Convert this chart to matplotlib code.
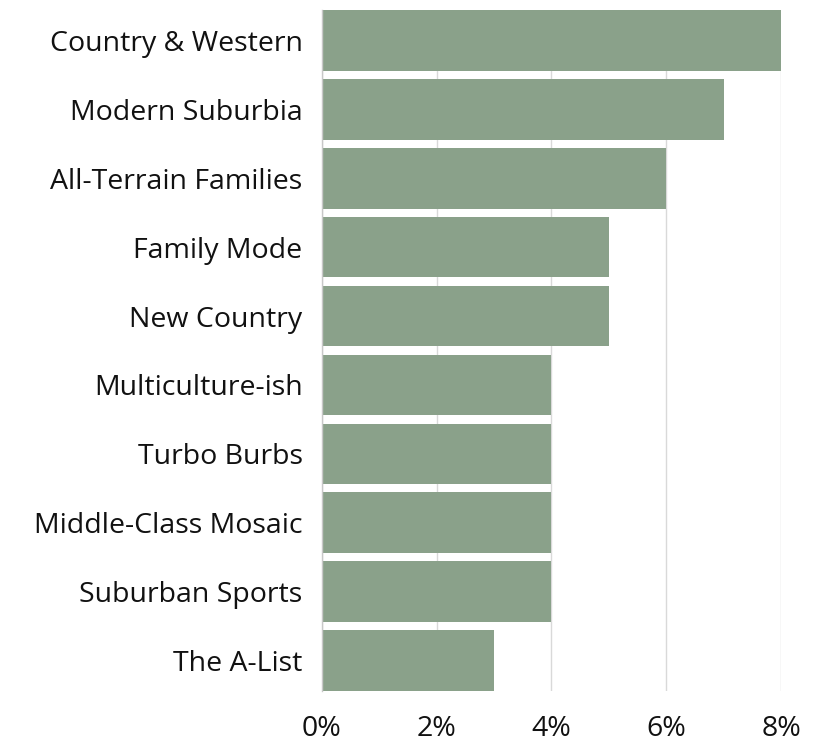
import matplotlib
matplotlib.use("Agg")
import matplotlib.pyplot as plt
from matplotlib.ticker import FuncFormatter

# segments, top to bottom
segments = [
    "Country & Western",
    "Modern Suburbia",
    "All-Terrain Families",
    "Family Mode",
    "New Country",
    "Multiculture-ish",
    "Turbo Burbs",
    "Middle-Class Mosaic",
    "Suburban Sports",
    "The A-List",
]
share = [8, 7, 6, 5, 5, 4, 4, 4, 4, 3]
xticks = [0, 2, 4, 6, 8]

plt.rcParams['font.family'] = ['Open Sans', 'DejaVu Sans']

fig = plt.figure(figsize=(8.38, 7.41), dpi=100)
ax = fig.add_axes([0.3842, 0.0675, 0.932 - 0.3842, 0.9865 - 0.0675])

ypos = list(range(len(segments)))[::-1]
ax.barh(ypos, share, height=0.88, color='#8aa18a', zorder=2)

ax.set_xlim(0, 8)
ax.set_ylim(-0.44, len(segments) - 0.56)
ax.set_yticks(ypos)
ax.set_yticklabels(segments)
ax.set_xticks(xticks)
ax.xaxis.set_major_formatter(FuncFormatter(lambda v, p: f"{v:.0f}%"))
ax.tick_params(axis='both', length=0, labelsize=20.5, colors='#111111')
ax.tick_params(axis='y', pad=14)
ax.tick_params(axis='x', pad=17)

ax.grid(axis='x', color='#d9d9d9', linewidth=1, zorder=0)
for s in ax.spines.values():
    s.set_visible(False)
# thin grey line at 0 sits on top of the bars
ax.spines['left'].set_visible(True)
ax.spines['left'].set_color('#c8c8c8')
ax.spines['left'].set_linewidth(1)
ax.spines['left'].set_zorder(3)

fig.savefig("out.png", dpi=100)
